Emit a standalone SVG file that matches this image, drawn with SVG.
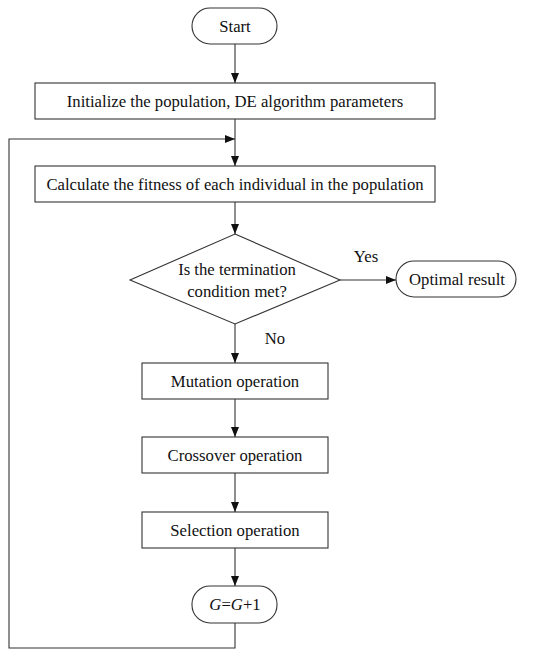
<svg xmlns="http://www.w3.org/2000/svg" width="550" height="656" viewBox="0 0 550 656">
<style>
.n{fill:#fff;stroke:#333;stroke-width:1.1}
.t{font-family:"Liberation Serif","Times New Roman",serif;font-size:16.7px;fill:#111;text-anchor:middle}
.c{fill:none;stroke:#333;stroke-width:1.1}
</style>
<defs>
<marker id="a" viewBox="0 0 10 8" refX="10" refY="4" markerWidth="10" markerHeight="8" markerUnits="userSpaceOnUse" orient="auto">
<path d="M0,0L10,4L0,8z" fill="#111"/>
</marker>
</defs>
<rect width="550" height="656" fill="#fff"/>
<g id="start"><rect class="n" x="192" y="8" width="85" height="36" rx="18"/><text class="t" x="235" y="32">Start</text></g>
<g id="init"><rect class="n" x="35" y="83" width="400" height="36"/><text class="t" x="235" y="107">Initialize the population, DE algorithm parameters</text></g>
<g id="fitness"><rect class="n" x="35" y="166" width="400" height="36"/><text class="t" x="235" y="190">Calculate the fitness of each individual in the population</text></g>
<g id="decision"><path class="n" d="M235,234L340,280L235,324L130,280Z"/><text class="t" x="237" y="275">Is the termination</text><text class="t" x="237" y="297">condition met?</text></g>
<g id="optimal"><rect class="n" x="396" y="261" width="120" height="36" rx="18"/><text class="t" x="457" y="285">Optimal result</text></g>
<g id="mutation"><rect class="n" x="142" y="363" width="186" height="36"/><text class="t" x="235" y="387">Mutation operation</text></g>
<g id="crossover"><rect class="n" x="142" y="437" width="186" height="36"/><text class="t" x="235" y="461">Crossover operation</text></g>
<g id="selection"><rect class="n" x="142" y="512" width="186" height="36"/><text class="t" x="235" y="536">Selection operation</text></g>
<g id="increment"><rect class="n" x="192" y="586" width="85" height="37" rx="18"/><text class="t" x="235" y="610"><tspan font-style="italic">G</tspan>=<tspan font-style="italic">G</tspan>+1</text></g>
<g id="connectors">
<path class="c" d="M235,44V83" marker-end="url(#a)"/>
<path class="c" d="M235,119V166" marker-end="url(#a)"/>
<path class="c" d="M235,202V234" marker-end="url(#a)"/>
<path class="c" d="M340,280H396" marker-end="url(#a)"/>
<path class="c" d="M235,324V363" marker-end="url(#a)"/>
<path class="c" d="M235,399V437" marker-end="url(#a)"/>
<path class="c" d="M235,473V512" marker-end="url(#a)"/>
<path class="c" d="M235,548V586" marker-end="url(#a)"/>
<path class="c" d="M235,623V648H9V139H235" marker-end="url(#a)"/>
<text class="t" x="366" y="262">Yes</text>
<text class="t" x="275" y="344">No</text>
</g>
</svg>
